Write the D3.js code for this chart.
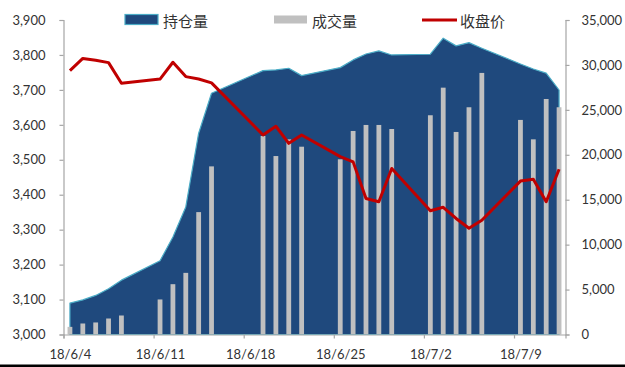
<!DOCTYPE html>
<html>
<head>
<meta charset="utf-8">
<script src="https://cdn.jsdelivr.net/npm/d3@7"></script>
<style>
  html, body { margin: 0; padding: 0; background: #fff; }
  svg { display: block; }
  .tick text { font-family: Lato, "Open Sans", sans-serif; font-size: 13px; fill: #333; }
  .legend text { font-family: "Noto Sans CJK SC", sans-serif; font-size: 15px; fill: #333; }
</style>
</head>
<body>
<svg id="chart" width="625" height="367"></svg>
<script>
// Trading days (the 18/6/18 Dragon Boat holiday has no session)
const dates = [
  "2018-06-04","2018-06-05","2018-06-06","2018-06-07","2018-06-08",
  "2018-06-11","2018-06-12","2018-06-13","2018-06-14","2018-06-15",
  "2018-06-19","2018-06-20","2018-06-21","2018-06-22",
  "2018-06-25","2018-06-26","2018-06-27","2018-06-28","2018-06-29",
  "2018-07-02","2018-07-03","2018-07-04","2018-07-05","2018-07-06",
  "2018-07-09","2018-07-10","2018-07-11","2018-07-12"
];

// 持仓量 (open interest, right axis)
const openInterest = [
  3500, 3850, 4350, 5100, 6050,
  8200, 10850, 14200, 22400, 26850,
  29370, 29440, 29630, 28810,
  29700, 30560, 31220, 31560, 31110,
  31190, 32970, 32120, 32480, 31860,
  30110, 29550, 29080, 27210
];

// 成交量 (volume, right axis)
const volume = [
  850, 1225, 1340, 1780, 2115,
  3900, 5600, 6860, 13620, 18710,
  22090, 19860, 21720, 20900,
  19500, 22650, 23320, 23320, 22870,
  24400, 27470, 22540, 25290, 29110,
  23880, 21720, 26210, 25290
];

// 收盘价 (close, left axis)
const closePrice = [
  3755, 3790, 3785, 3778, 3719,
  3731, 3779, 3738, 3731, 3720,
  3571, 3596, 3547, 3571,
  3509, 3494, 3389, 3380, 3475,
  3354, 3364, 3332, 3304, 3327,
  3439, 3444, 3380, 3473
];

const xTickDates = ["2018-06-04","2018-06-11","2018-06-18","2018-06-25","2018-07-02","2018-07-09"];
const leftTicks = [3000, 3100, 3200, 3300, 3400, 3500, 3600, 3700, 3800, 3900];
const rightTicks = [0, 5000, 10000, 15000, 20000, 25000, 30000, 35000];
const seriesNames = ["持仓量", "成交量", "收盘价"];

const parse = d3.utcParse("%Y-%m-%d");
const DAY = 864e5;
const rows = dates.map((d, i) => ({
  t: new Date(parse(d).getTime() + DAY / 2),   // centre of the day slot
  oi: openInterest[i], vol: volume[i], px: closePrice[i]
}));

const L = 63.5, R = 565.5, T = 20, B = 334.5;
const svg = d3.select("#chart");

const x = d3.scaleUtc()
  .domain([parse("2018-06-04"), parse("2018-07-13")])
  .range([L, R]);
const yL = d3.scaleLinear().domain([3000, 3900]).range([B, T]);
const yR = d3.scaleLinear().domain([0, 35000]).range([B, T]);

// Open interest area
const area = d3.area()
  .x(d => x(d.t))
  .y0(yR(0))
  .y1(d => yR(d.oi));
svg.append("path")
  .datum(rows)
  .attr("d", area)
  .attr("fill", "#1F497D")
  .attr("stroke", "#4BACC6")
  .attr("stroke-width", 1.2)
  .attr("stroke-linejoin", "round");

// Volume bars
const barW = 4.8;
svg.append("g").selectAll("rect")
  .data(rows)
  .join("rect")
  .attr("x", d => x(d.t) - barW / 2)
  .attr("y", d => yR(d.vol))
  .attr("width", barW)
  .attr("height", d => yR(0) - yR(d.vol))
  .attr("fill", "#C0C0C0");

// Close price line
svg.append("path")
  .datum(rows)
  .attr("d", d3.line().x(d => x(d.t)).y(d => yL(d.px)))
  .attr("fill", "none")
  .attr("stroke", "#C00000")
  .attr("stroke-width", 3)
  .attr("stroke-linejoin", "round");

// Axes
const fmtComma = d3.format(",");
const axisColor = "#A6A6A6";

const gL = svg.append("g")
  .attr("transform", `translate(${L},0)`)
  .call(d3.axisLeft(yL).tickValues(leftTicks).tickFormat(fmtComma).tickSize(4).tickPadding(14));
const gR = svg.append("g")
  .attr("transform", `translate(${R},0)`)
  .call(d3.axisRight(yR).tickValues(rightTicks).tickFormat(fmtComma).tickSize(4).tickPadding(12));
const fmtDate = d3.utcFormat("%y/%-m/%-d");
const gB = svg.append("g")
  .attr("transform", `translate(0,${B})`)
  .call(d3.axisBottom(x).tickValues(xTickDates.map(parse)).tickFormat(fmtDate).tickSize(4).tickPadding(9));

// centre the date labels on their day slot
const halfSlot = (x(parse("2018-06-05")) - x(parse("2018-06-04"))) / 2;
gB.selectAll(".tick text").attr("dx", halfSlot).attr("dy", "0.85em");

[gL, gR, gB].forEach(g => {
  g.select(".domain").attr("stroke", axisColor).attr("stroke-width", 1.2);
  g.selectAll(".tick line").attr("stroke", axisColor).attr("stroke-width", 1.2);
});

// Legend
const lg = svg.append("g").attr("class", "legend");
lg.append("rect").attr("x", 125).attr("y", 14.5).attr("width", 33).attr("height", 10)
  .attr("fill", "#1F497D").attr("stroke", "#4BACC6").attr("stroke-width", 1.2);
lg.append("text").attr("x", 163).attr("y", 20).attr("dominant-baseline", "central").text(seriesNames[0]);
lg.append("rect").attr("x", 274).attr("y", 15.5).attr("width", 33).attr("height", 8)
  .attr("fill", "#C0C0C0");
lg.append("text").attr("x", 312).attr("y", 20).attr("dominant-baseline", "central").text(seriesNames[1]);
lg.append("line").attr("x1", 422).attr("x2", 457).attr("y1", 20).attr("y2", 20)
  .attr("stroke", "#C00000").attr("stroke-width", 3);
lg.append("text").attr("x", 460).attr("y", 20).attr("dominant-baseline", "central").text(seriesNames[2]);

// bottom frame edge
svg.append("rect").attr("x", 0).attr("y", 364.5).attr("width", 625).attr("height", 2.5).attr("fill", "#000");
</script>
</body>
</html>
